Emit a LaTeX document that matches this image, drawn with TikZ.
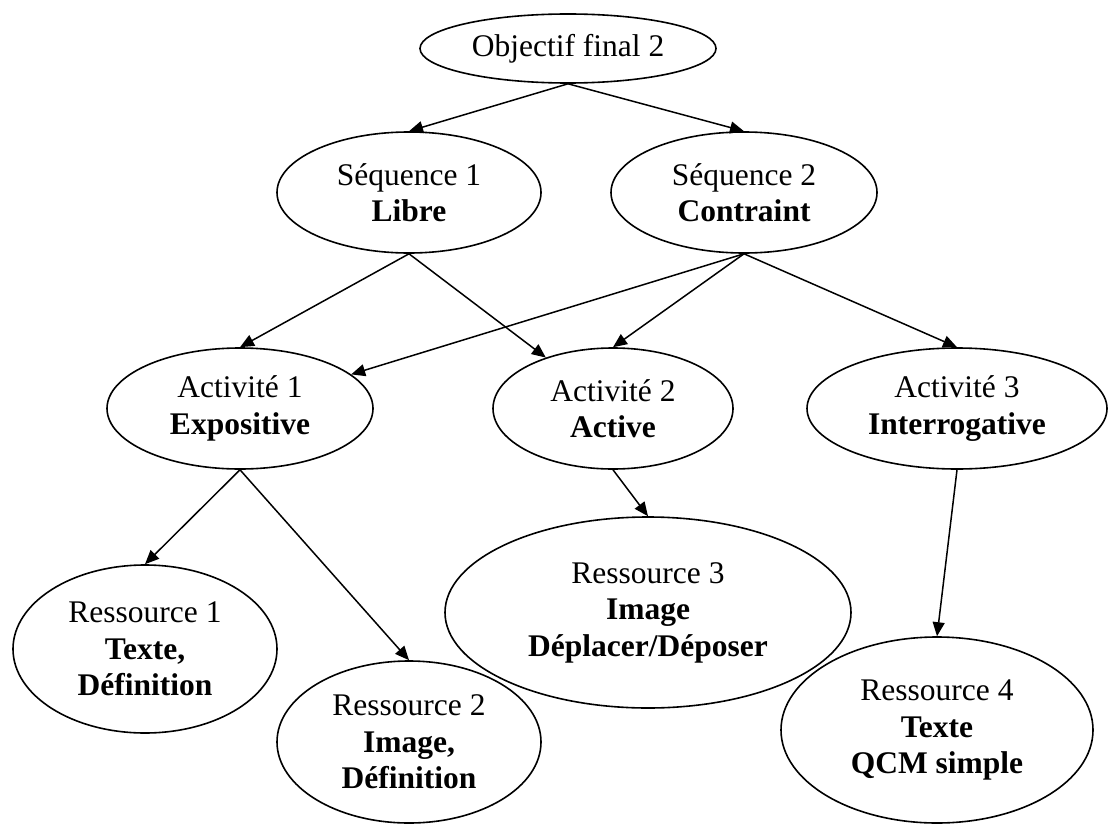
\documentclass[tikz,border=0pt]{standalone}
\usepackage{fontspec}
\setmainfont{Liberation Serif}
\usetikzlibrary{shapes.geometric,arrows.meta}
\begin{document}
\begin{tikzpicture}[x=1pt,y=-1pt,
  ell/.style={draw=black,line width=1.6pt,ellipse,inner sep=0pt,align=center,
    font=\fontsize{31.5}{36.5}\selectfont},
  conn/.style={line width=1.5pt,-{Triangle[length=14pt,width=12pt]}}]
\useasboundingbox (0,0) rectangle (1110,824);
\node[ell,minimum width=296pt,minimum height=69pt] (obj) at (568,48.5) {Objectif final 2};
\node[ell,minimum width=264pt,minimum height=121pt] (s1) at (409,192.5) {Séquence 1\\\textbf{Libre}};
\node[ell,minimum width=266pt,minimum height=121pt] (s2) at (744,192.5) {Séquence 2\\\textbf{Contraint}};
\node[ell,minimum width=266pt,minimum height=121pt] (a1) at (240,408.5) {Activité 1\\\textbf{Expositive}};
\node[ell,minimum width=240pt,minimum height=121pt] (a2) at (613,408.5) {Activité 2\\\textbf{Active}};
\node[ell,minimum width=300pt,minimum height=121pt] (a3) at (957,408.5) {Activité 3\\\textbf{Interrogative}};
\node[ell,minimum width=264pt,minimum height=168pt] (r1) at (145,649) {Ressource 1\\\textbf{Texte,}\\\textbf{Définition}};
\node[ell,minimum width=264pt,minimum height=162pt] (r2) at (409,742) {Ressource 2\\\textbf{Image,}\\\textbf{Définition}};
\node[ell,minimum width=406pt,minimum height=191pt] (r3) at (648,612.5) {Ressource 3\\\textbf{Image}\\\textbf{Déplacer/Déposer}};
\node[ell,minimum width=312pt,minimum height=186pt] (r4) at (937,730) {Ressource 4\\\textbf{Texte}\\\textbf{QCM simple}};
\draw[conn] (obj.south) -- (s1.north);
\draw[conn] (obj.south) -- (s2.north);
\draw[conn] (s1.south) -- (a1.north);
\draw[conn] (s1.south) -- (a2);
\draw[conn] (s2.south) -- (a1);
\draw[conn] (s2.south) -- (a2.north);
\draw[conn] (s2.south) -- (a3.north);
\draw[conn] (a1.south) -- (r1.north);
\draw[conn] (a1.south) -- (r2.north);
\draw[conn] (a2.south) -- (r3.north);
\draw[conn] (a3.south) -- (r4.north);
\end{tikzpicture}
\end{document}
